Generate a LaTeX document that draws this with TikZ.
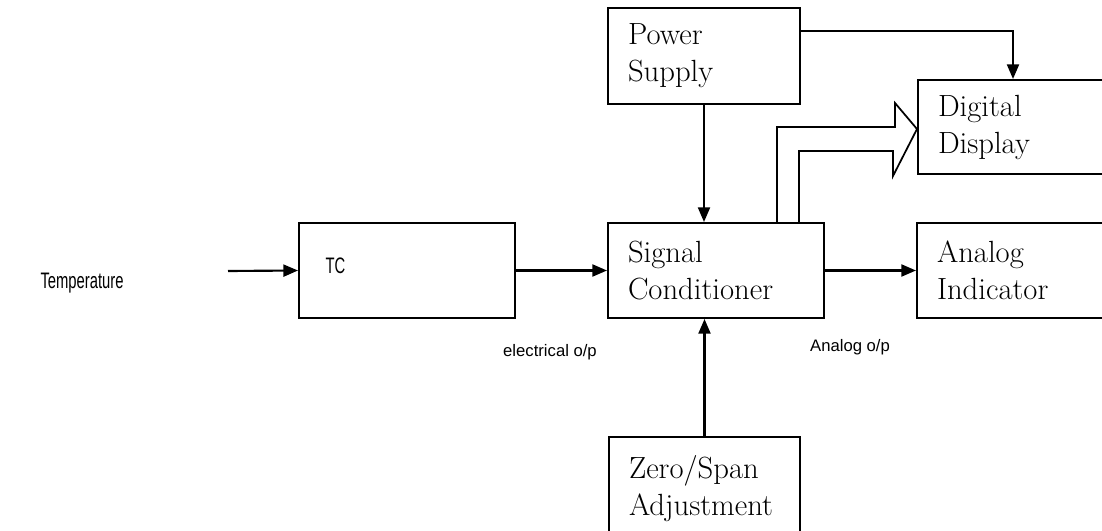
\documentclass[tikz,border=0pt]{standalone}
\usepackage{fontspec}
\usepackage{graphicx}
\usepackage{tikz}
\usetikzlibrary{arrows.meta,positioning,calc}
\newfontfamily\labelsans{Liberation Sans}
\newcommand{\bigserif}{\fontsize{23}{27.75}\selectfont}
\newcommand{\narrowtext}[1]{{\labelsans\fontsize{16.8}{20}\selectfont\scalebox{0.66}[1]{#1}}}
\tikzset{
  box/.style={rectangle, draw=black, fill=white, line width=1.5pt, align=left,
              inner xsep=15pt, inner ysep=0pt, font=\bigserif},
  lbl/.style={font=\labelsans\fontsize{12.5}{14}\selectfont, inner sep=0pt},
  flow/.style={-{Triangle[length=11pt,width=9pt]}, draw=black, line width=1.6pt},
  bigarrow/.style={draw=black, line width=1.3pt, line join=miter},
}
\begin{document}
\begin{tikzpicture}[x=0.75pt, y=-0.75pt]
\useasboundingbox (0,0) rectangle (1102,531);
% blocks
\node[box, minimum width=162pt, minimum height=71.25pt, text width=122pt, inner xsep=20pt] (tc) at (407,270.5)
 {\raisebox{7pt}{\narrowtext{TC}}};
\node[box, minimum width=162pt, minimum height=71.25pt, text width=132pt, right=68.25pt of tc] (sc)
 {Signal\\Conditioner};
\node[box, minimum width=159pt, minimum height=71.25pt, text width=129pt, right=68.25pt of sc] (ai)
 {Analog\\Indicator};
\node[box, minimum width=144pt, minimum height=72pt, text width=114pt] (ps) at (704,56)
 {Power\\Supply};
\node[box, minimum width=159pt, minimum height=70.5pt, text width=129pt] (dd) at (1024,127)
 {Digital\\Display};
\node[box, minimum width=143.25pt, minimum height=77.25pt, text width=113.25pt] (zs) at (704.5,488.5)
 {Zero/Span\\Adjustment};
% labels
\node (temp) at (82,283) {\narrowtext{Temperature}};
\node[lbl] (elab) at (550,352) {electrical o/p};
\node[lbl] (alab) at (850,347) {Analog o/p};
% connectors
\coordinate (in) at (228,271);
\draw[flow] (in) -- (tc.west);
\draw[flow] (tc.east) -- (sc.west);
\draw[flow] (sc.east) -- (ai.west);
\draw[flow] (ps.south) -- (ps.south |- sc.north);
\draw[flow] (zs.north) -- (zs.north |- sc.south);
\draw[flow] ($(ps.north east)+(0,24)$) -| ($(dd.north west)+(96,0)$);
% hollow arrow to the display
\draw[bigarrow] ($(sc.north east)+(-48,0)$) -- ++(0,-95) -- ++(118,0) -- ++(0,-24)
  -- ($(dd.west)+(0,2)$) -- ++(-24,47) -- ++(0,-25) -- ++(-94,0) -- ++(0,72);
\end{tikzpicture}
\end{document}
